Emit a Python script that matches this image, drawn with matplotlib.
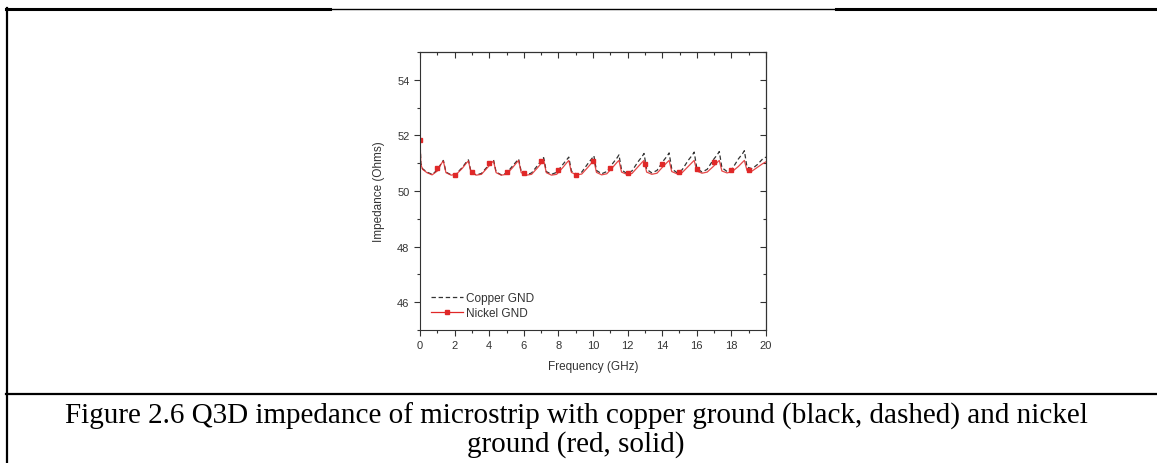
import matplotlib
matplotlib.use("Agg")
import matplotlib.pyplot as plt
from matplotlib.lines import Line2D
from matplotlib.ticker import MultipleLocator

# Frequency grid (GHz), shared by both curves
freq = [0.0, 0.05, 0.15, 0.4, 0.7, 1.0, 1.25, 1.35,
        1.5, 1.8, 2.1, 2.45, 2.7, 2.8,
        2.95, 3.25, 3.55, 3.9, 4.15, 4.25,
        4.4, 4.7, 5.0, 5.35, 5.6, 5.7,
        5.85, 6.15, 6.45, 6.8, 7.05, 7.15,
        7.3, 7.6, 7.9, 8.25, 8.5, 8.6,
        8.75, 9.05, 9.35, 9.7, 9.95, 10.05,
        10.2, 10.5, 10.8, 11.15, 11.4, 11.5,
        11.65, 11.95, 12.25, 12.6, 12.85, 12.95,
        13.1, 13.4, 13.7, 14.05, 14.3, 14.4,
        14.55, 14.85, 15.15, 15.5, 15.75, 15.85,
        16.0, 16.3, 16.6, 16.95, 17.2, 17.3,
        17.45, 17.75, 18.05, 18.4, 18.65, 18.75,
        18.9, 19.2, 19.5, 19.8, 20.0]

copper = [51.85, 51.0, 50.8, 50.68, 50.6, 50.75, 51.02, 51.1,
          50.68, 50.58, 50.62, 50.85, 51.06, 51.12,
          50.68, 50.58, 50.63, 50.88, 51.06, 51.12,
          50.68, 50.58, 50.64, 50.9, 51.08, 51.15,
          50.7, 50.58, 50.65, 50.92, 51.12, 51.2,
          50.7, 50.6, 50.67, 50.95, 51.14, 51.22,
          50.72, 50.6, 50.68, 50.98, 51.18, 51.27,
          50.74, 50.62, 50.7, 51.0, 51.2, 51.3,
          50.76, 50.63, 50.72, 51.05, 51.25, 51.35,
          50.78, 50.65, 50.74, 51.07, 51.27, 51.37,
          50.8, 50.66, 50.76, 51.1, 51.3, 51.4,
          50.82, 50.68, 50.78, 51.12, 51.32, 51.42,
          50.84, 50.7, 50.8, 51.15, 51.35, 51.45,
          50.86, 50.8, 50.95, 51.15, 51.22]

nickel = [51.85, 50.95, 50.78, 50.66, 50.58, 50.72, 51.0, 51.08,
          50.66, 50.57, 50.6, 50.82, 51.02, 51.08,
          50.66, 50.57, 50.6, 50.84, 51.02, 51.08,
          50.66, 50.57, 50.6, 50.84, 51.03, 51.1,
          50.66, 50.57, 50.6, 50.84, 51.03, 51.1,
          50.66, 50.57, 50.6, 50.84, 51.03, 51.1,
          50.67, 50.58, 50.61, 50.85, 51.03, 51.1,
          50.67, 50.58, 50.62, 50.86, 51.04, 51.1,
          50.68, 50.6, 50.63, 50.87, 51.04, 51.1,
          50.68, 50.6, 50.64, 50.88, 51.04, 51.1,
          50.7, 50.62, 50.66, 50.88, 51.04, 51.1,
          50.72, 50.64, 50.68, 50.88, 51.04, 51.1,
          50.72, 50.65, 50.7, 50.88, 51.04, 51.1,
          50.74, 50.72, 50.85, 50.98, 51.05]

# Square symbols on the nickel curve
marker_freq = list(range(20))
marker_vals = [51.84, 50.81, 50.59, 50.69, 51.02, 50.69, 50.63, 51.09, 50.75, 50.59,
               51.08, 50.84, 50.63, 50.97, 50.97, 50.69, 50.79, 51.03, 50.74, 50.74]

caption1 = "Figure 2.6 Q3D impedance of microstrip with copper ground (black, dashed) and nickel"
caption2 = "ground (red, solid)"

W, H = 1157, 464
plt.rcParams["font.family"] = ["Liberation Sans", "DejaVu Sans"]
fig = plt.figure(figsize=(W / 100, H / 100), dpi=100)
ax = fig.add_axes([420 / W, 1 - 331 / H, 346 / W, 278 / H])

red = "#e02828"
ax.plot(freq, copper, color="#333333", lw=0.9, ls=(0, (3.5, 2.2)), label="Copper GND")
ax.plot(freq, nickel, color=red, lw=0.9, alpha=0.85)
ax.plot(marker_freq, marker_vals, ls="none", marker="s", ms=3, color=red)
# legend proxy with line + marker
ax.plot([], [], color=red, lw=0.9, marker="s", ms=2.5, label="Nickel GND")

ax.set_xlim(0, 20)
ax.set_ylim(45, 55)
ax.xaxis.set_major_locator(MultipleLocator(2))
ax.xaxis.set_minor_locator(MultipleLocator(1))
ax.yaxis.set_major_locator(MultipleLocator(2))
ax.yaxis.set_minor_locator(MultipleLocator(1))
ax.tick_params(which="both", direction="out", top=False, right=False,
               labelsize=8, labelcolor="#333333", color="#333333", width=0.8)
ax.tick_params(which="major", length=4)
ax.tick_params(which="minor", length=2.5)
for s in ax.spines.values():
    s.set_color("#333333")
    s.set_linewidth(0.8)

# inward ticks on top and right through secondary axes
top = ax.secondary_xaxis("top")
top.xaxis.set_major_locator(MultipleLocator(2))
top.xaxis.set_minor_locator(MultipleLocator(1))
top.tick_params(which="both", direction="in", labeltop=False, color="#333333", width=0.8)
top.tick_params(which="major", length=4)
top.tick_params(which="minor", length=2.5)
right = ax.secondary_yaxis("right")
right.yaxis.set_major_locator(MultipleLocator(2))
right.yaxis.set_minor_locator(MultipleLocator(1))
right.tick_params(which="both", direction="in", labelright=False, color="#333333", width=0.8)
right.tick_params(which="major", length=4)
right.tick_params(which="minor", length=2.5)

ax.set_xlabel("Frequency (GHz)", fontsize=8.5, color="#333333", labelpad=7)
ax.set_ylabel("Impedance (Ohms)", fontsize=8.5, color="#333333", labelpad=9)
ax.legend(loc="lower left", frameon=False, fontsize=8.5, handlelength=2.7,
          handletextpad=0.3, labelspacing=0.3, borderaxespad=0.5,
          labelcolor="#333333")

# document table borders around the figure
def hline(x0, x1, y, lw):
    fig.add_artist(Line2D([x0 / W, x1 / W], [1 - y / H, 1 - y / H], color="black", lw=lw))

hline(6, 330, 10, 2.2)
hline(330, 836, 9.5, 1.0)
hline(836, W, 10, 2.2)
hline(6, W, 395, 1.6)
fig.add_artist(Line2D([7 / W, 7 / W], [0, 1 - 9 / H], color="black", lw=1.6))

fig.text(576 / W, 1 - 416 / H, caption1, ha="center", va="center",
         family="Liberation Serif", fontsize=21)
fig.text(576 / W, 1 - 445 / H, caption2, ha="center", va="center",
         family="Liberation Serif", fontsize=21)

fig.savefig("out.png", dpi=100)
